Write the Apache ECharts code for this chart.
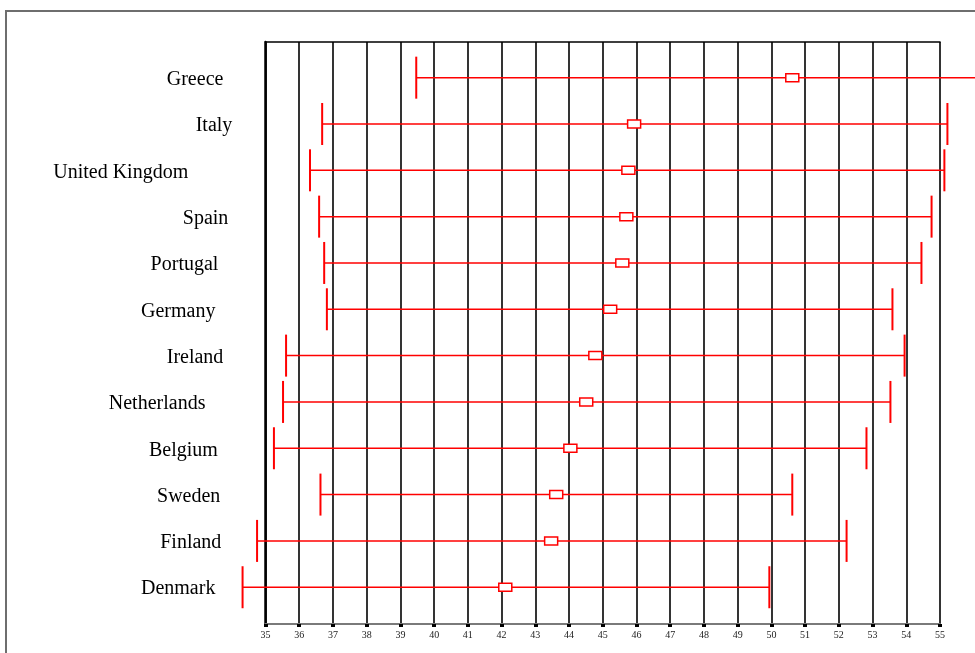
<!DOCTYPE html>
<html><head><meta charset="utf-8">
<script src="https://cdn.jsdelivr.net/npm/echarts@6/dist/echarts.min.js"></script>
<style>html,body{margin:0;padding:0;background:#fff}#c{width:975px;height:653px}</style>
</head><body><div id="c"></div>
<script>
const countries = ['Greece','Italy','United Kingdom','Spain','Portugal','Germany','Ireland','Netherlands','Belgium','Sweden','Finland','Denmark'];
const lowValues  = [39.47,36.68,36.32,36.59,36.74,36.82,35.61,35.52,35.25,36.63,34.75,34.32];
const meanValues = [50.62,45.93,45.76,45.70,45.58,45.22,44.78,44.51,44.04,43.62,43.47,42.11];
const highValues = [56.6,55.22,55.13,54.75,54.45,53.59,53.95,53.53,52.82,50.62,52.23,49.94];
const xMin = 35, xMax = 55, xStep = 1;

const RED = '#ff0000';
const LABEL_FONT = 20;
const data = countries.map((c, i) => [i, lowValues[i], meanValues[i], highValues[i]]);

// label layout of the original: each name is shifted left by ~0.45 of its own width
const ctx = document.createElement('canvas').getContext('2d');
ctx.font = LABEL_FONT + 'px "Liberation Serif"';
const rich = {};
countries.forEach((c, i) => {
  const w = ctx.measureText(c).width;
  rich['r' + i] = {
    fontFamily: 'Liberation Serif', fontSize: LABEL_FONT, color: '#000',
    padding: [4, 0.449 * w, 0, 0]
  };
});

const chart = echarts.init(document.getElementById('c'), null, {renderer: 'canvas'});
chart.setOption({
  animation: false,
  backgroundColor: '#fff',
  graphic: [{
    type: 'rect', z: 0, silent: true,
    shape: {x: 6, y: 11, width: 1100, height: 800},
    style: {fill: 'none', stroke: '#6e6e6e', lineWidth: 2}
  }],
  grid: [
    {left: 265.5, right: 35, top: 42, bottom: 29, show: false},
    {left: 265.5, right: 35, top: 54.5, bottom: 42.6, show: false}
  ],
  xAxis: [
    {
      gridIndex: 0, type: 'value', min: xMin, max: xMax, interval: xStep, position: 'bottom',
      axisLine: {show: true, lineStyle: {color: '#7a7a7a', width: 2}},
      axisTick: {show: true, length: 3, lineStyle: {color: '#000', width: 4}},
      axisLabel: {show: true, margin: 6, color: '#222', fontFamily: 'Liberation Serif', fontSize: 10},
      splitLine: {show: true, lineStyle: {color: '#000', width: 1.6}}
    },
    {
      gridIndex: 0, type: 'value', min: xMin, max: xMax, interval: xStep, position: 'top',
      axisLine: {show: true, onZero: false, lineStyle: {color: '#000', width: 1.6}},
      axisTick: {show: false}, axisLabel: {show: false}, splitLine: {show: false}
    },
    {
      gridIndex: 1, type: 'value', min: xMin, max: xMax, interval: xStep,
      show: false
    }
  ],
  yAxis: [
    {
      gridIndex: 0, type: 'value', min: 0, max: 1,
      axisLine: {show: true, onZero: false, lineStyle: {color: '#000', width: 2.5}},
      axisTick: {show: false}, axisLabel: {show: false}, splitLine: {show: false}
    },
    {
      gridIndex: 1, type: 'category', data: countries, inverse: true,
      axisLine: {show: false}, axisTick: {show: false}, splitLine: {show: false},
      axisLabel: {
        show: true, margin: 16.7, align: 'right',
        formatter: (v, i) => '{r' + i + '|' + v + '}',
        rich: rich
      }
    }
  ],
  series: [{
    type: 'custom',
    xAxisIndex: 2, yAxisIndex: 1,
    clip: false,
    data: data,
    encode: {x: [1, 2, 3], y: 0},
    renderItem: function (params, api) {
      const yi = api.value(0);
      const lo = api.coord([api.value(1), yi]);
      const mid = api.coord([api.value(2), yi]);
      const hi = api.coord([api.value(3), yi]);
      const cap = 21;
      return {
        type: 'group',
        children: [
          {type: 'line', shape: {x1: lo[0], y1: lo[1], x2: hi[0], y2: hi[1]}, style: {stroke: RED, lineWidth: 1.5}},
          {type: 'line', shape: {x1: lo[0], y1: lo[1] - cap, x2: lo[0], y2: lo[1] + cap}, style: {stroke: RED, lineWidth: 2}},
          {type: 'line', shape: {x1: hi[0], y1: hi[1] - cap, x2: hi[0], y2: hi[1] + cap}, style: {stroke: RED, lineWidth: 2}},
          {type: 'rect', shape: {x: mid[0] - 6.5, y: mid[1] - 4, width: 13, height: 8}, style: {stroke: RED, fill: '#fff', lineWidth: 1.5}}
        ]
      };
    }
  }]
});
</script>
</body></html>
